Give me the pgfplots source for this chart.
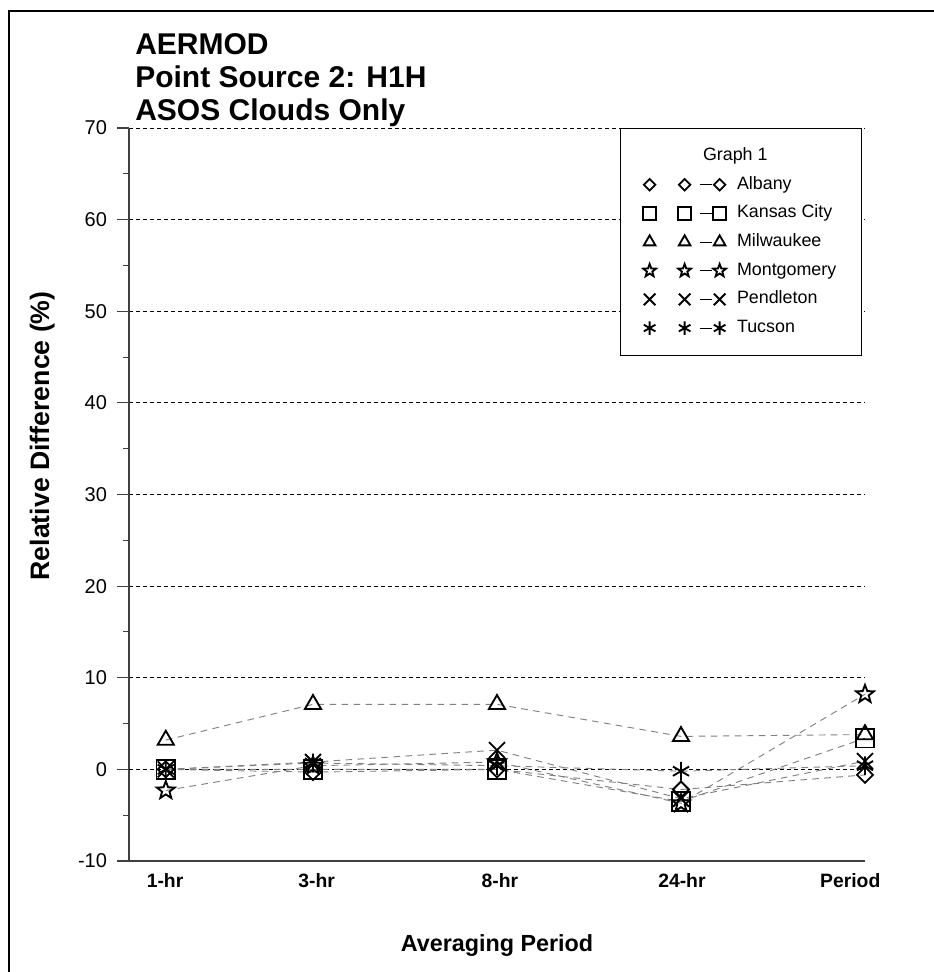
\documentclass[border=0pt]{standalone}
\usepackage{pgfplots}
\pgfplotsset{compat=1.18}
\usepackage{fontspec}
\setmainfont{Liberation Sans}

% outlined five-point star, as in the original chart
\pgfdeclareplotmark{ostar}{%
  \pgfpathmoveto{\pgfqpointpolar{90}{\pgfplotmarksize}}%
  \pgfpathlineto{\pgfqpointpolar{126}{0.42\pgfplotmarksize}}%
  \pgfpathlineto{\pgfqpointpolar{162}{\pgfplotmarksize}}%
  \pgfpathlineto{\pgfqpointpolar{198}{0.42\pgfplotmarksize}}%
  \pgfpathlineto{\pgfqpointpolar{234}{\pgfplotmarksize}}%
  \pgfpathlineto{\pgfqpointpolar{270}{0.42\pgfplotmarksize}}%
  \pgfpathlineto{\pgfqpointpolar{306}{\pgfplotmarksize}}%
  \pgfpathlineto{\pgfqpointpolar{342}{0.42\pgfplotmarksize}}%
  \pgfpathlineto{\pgfqpointpolar{18}{\pgfplotmarksize}}%
  \pgfpathlineto{\pgfqpointpolar{54}{0.42\pgfplotmarksize}}%
  \pgfpathclose
  \pgfusepathqstroke
}
% square diamond (equal width and height)
\pgfdeclareplotmark{odiamond}{%
  \pgfpathmoveto{\pgfqpoint{0pt}{\pgfplotmarksize}}%
  \pgfpathlineto{\pgfqpoint{\pgfplotmarksize}{0pt}}%
  \pgfpathlineto{\pgfqpoint{0pt}{-\pgfplotmarksize}}%
  \pgfpathlineto{\pgfqpoint{-\pgfplotmarksize}{0pt}}%
  \pgfpathclose
  \pgfusepathqstroke
}

\pgfplotsset{
  ser/.style={gray, line width=0.7pt, dash pattern=on 5pt off 4pt,
    mark size=7pt, mark options={black, solid, line width=1.4pt}},
}

\begin{document}
\begin{tikzpicture}
\useasboundingbox (0,0) rectangle (699.75pt,729pt);
\draw[line width=1.5pt] (6.75pt,-5pt) -- (6.75pt,720.75pt) -- (705pt,720.75pt);
\node[anchor=north west, inner sep=0pt, align=left,
  font=\fontsize{22.5}{24.75}\selectfont\bfseries] at (101.25pt,704.25pt)
  {AERMOD\\Point Source 2: H1H\\ASOS Clouds Only};
\begin{axis}[
  at={(96.75pt,83.25pt)}, anchor=south west,
  width=552pt, height=549.75pt, scale only axis,
  xmin=0, xmax=4, ymin=-10, ymax=70,
  clip=false,
  axis x line*=bottom, axis y line*=left,
  axis line style={-, black!75, line width=0.8pt},
  xtick={0.196,1.02,2.016,3.005,3.92},
  xticklabels={1-hr,3-hr,8-hr,24-hr,Period},
  major x tick style={draw=none},
  ytick={-10,0,...,70},
  minor y tick num=1,
  tick align=outside,
  major tick length=9pt, minor tick length=4.5pt,
  y tick style={black!75, line width=0.8pt},
  ymajorgrids,
  major grid style={black, line width=0.6pt, dash pattern=on 3pt off 2.25pt},
  extra y ticks={0}, extra y tick labels={},
  extra y tick style={grid style={black, line width=0.7pt,
    dash pattern=on 3pt off 1.5pt on 0.8pt off 1.5pt}},
  /pgf/number format/assume math mode=true,
  yticklabel style={font=\fontsize{15}{15}\selectfont, xshift=-4pt},
  xticklabel style={font=\bfseries\fontsize{14.5}{14.5}\selectfont, yshift=3pt},
  xlabel={Averaging Period},
  xlabel style={font=\bfseries\fontsize{17.5}{17.5}\selectfont,
    at={(axis description cs:0.5,-0.115)}, anchor=center},
  ylabel={Relative Difference (\%)},
  ylabel style={font=\bfseries\fontsize{20}{20}\selectfont,
    at={(axis description cs:-0.118,0.580)}, anchor=center},
  legend image code/.code={
    \draw[#1, every mark/.append style={scale=0.72}, only marks]
      plot coordinates {(0pt,0pt) (26.25pt,0pt) (52.5pt,0pt)};
    \draw[black, solid, line width=0.8pt] (38pt,0pt) -- (47pt,0pt);
  },
  legend style={at={(axis description cs:0.996,1.0)}, anchor=north east,
    draw=black, line width=0.6pt, fill=white,
    font=\fontsize{13.4}{14}\selectfont,
    inner xsep=17pt, inner ysep=12pt, row sep=4pt, column sep=6pt,
    nodes={text height=10pt, text depth=3.5pt}},
  legend cell align=left,
]
\addlegendimage{empty legend}

\addplot[ser, mark=odiamond, mark size=6pt] coordinates {(0.2,0) (1,-0.3) (2,0) (3,-2.2) (4,-0.6)};
\addplot[ser, mark=square] coordinates {(0.2,0) (1,0) (2,0) (3,-3.5) (4,3.4)};
\addplot[ser, mark=triangle] coordinates {(0.2,3.2) (1,7.1) (2,7.1) (3,3.6) (4,3.8)};
\addplot[ser, mark=ostar] coordinates {(0.2,-2.3) (1,0.4) (2,0.8) (3,-3.7) (4,8.2)};
\addplot[ser, mark=x, mark size=8.5pt] coordinates {(0.2,0) (1,0.8) (2,2.1) (3,-3.2) (4,0.9)};
\addplot[ser, mark=asterisk] coordinates {(0.2,0) (1,0.7) (2,0.4) (3,-0.2) (4,0.4)};

\legend{\hspace*{-25.5pt}Graph 1, Albany, Kansas City, Milwaukee, Montgomery, Pendleton, Tucson}
\end{axis}
\end{tikzpicture}
\end{document}
